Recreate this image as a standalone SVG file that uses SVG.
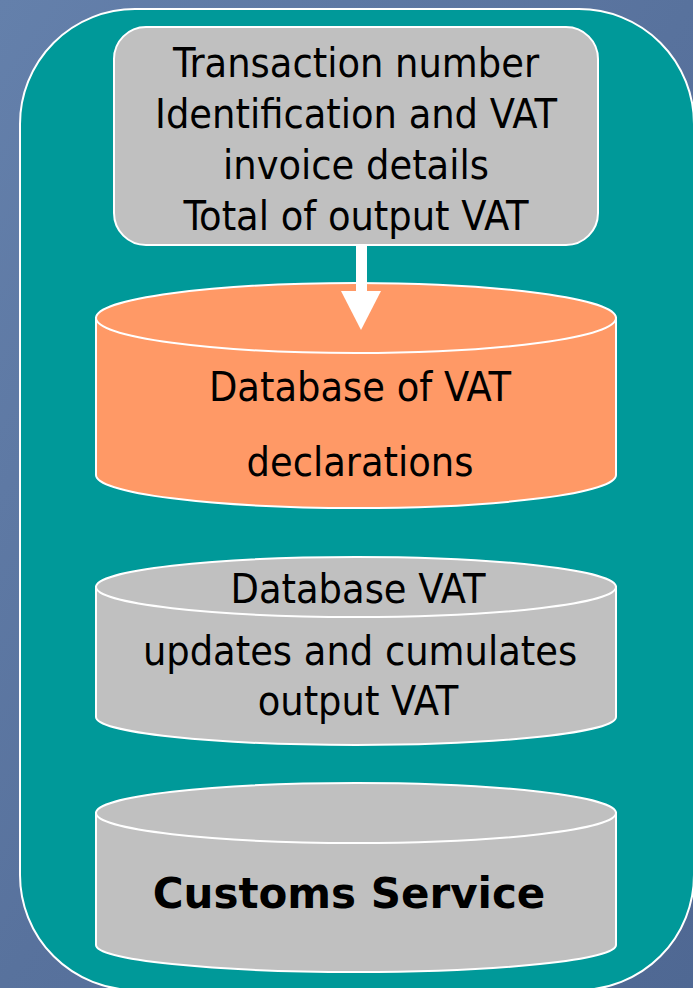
<svg xmlns="http://www.w3.org/2000/svg" width="693" height="988" viewBox="0 0 693 988">
<defs>
<style>
.panel{fill:#009999;stroke:#ffffff;stroke-width:2}
.box{fill:#c0c0c0;stroke:#ffffff;stroke-width:2}
.orange{fill:#ff9966;stroke:#ffffff;stroke-width:2}
.gray{fill:#c0c0c0;stroke:#ffffff;stroke-width:2}
.t{font-family:"DejaVu Sans Condensed","DejaVu Sans",sans-serif;font-size:41px;fill:#000000;text-anchor:middle}
.b{font-family:"DejaVu Sans",sans-serif;font-size:42px;font-weight:bold;fill:#000000;text-anchor:middle}
.arrow{fill:#ffffff}
</style>
<linearGradient id="bgg" x1="0" y1="0" x2="1" y2="1">
<stop offset="0" stop-color="#6480ab"/>
<stop offset="0.5" stop-color="#58729d"/>
<stop offset="1" stop-color="#4f6893"/>
</linearGradient>
</defs>
<rect x="0" y="0" width="693" height="988" fill="url(#bgg)"/>
<rect id="panel" class="panel" x="20" y="9" width="674" height="981" rx="115" ry="115"/>
<g id="transaction-box">
<rect class="box" x="114" y="27" width="484" height="218" rx="32" ry="32"/>
<text class="t" x="356" y="77">Transaction number</text>
<text class="t" x="356" y="128">Identification and VAT</text>
<text class="t" x="356" y="179">invoice details</text>
<text class="t" x="356" y="230">Total of output VAT</text>
</g>
<g id="db-declarations">
<path class="orange" d="M96,318 L96,475 A260,33 0 0 0 616,475 L616,318 Z"/>
<ellipse class="orange" cx="356" cy="318" rx="260" ry="35"/>
<text class="t" x="360" y="401">Database of VAT</text>
<text class="t" x="360" y="476">declarations</text>
</g>
<g id="db-vat">
<path class="gray" d="M96,587 L96,717 A260,28 0 0 0 616,717 L616,587 Z"/>
<ellipse class="gray" cx="356" cy="587" rx="260" ry="30"/>
<text class="t" x="358" y="603">Database VAT</text>
<text class="t" x="360" y="665">updates and cumulates</text>
<text class="t" x="358" y="715">output VAT</text>
</g>
<g id="customs">
<path class="gray" d="M96,813 L96,945 A260,27 0 0 0 616,945 L616,813 Z"/>
<ellipse class="gray" cx="356" cy="813" rx="260" ry="30"/>
<text class="b" x="349" y="908">Customs Service</text>
</g>
<g id="connectors">
<rect class="arrow" x="356" y="244" width="11" height="48"/>
<polygon class="arrow" points="341,291 381,291 361,330"/>
</g>
</svg>
